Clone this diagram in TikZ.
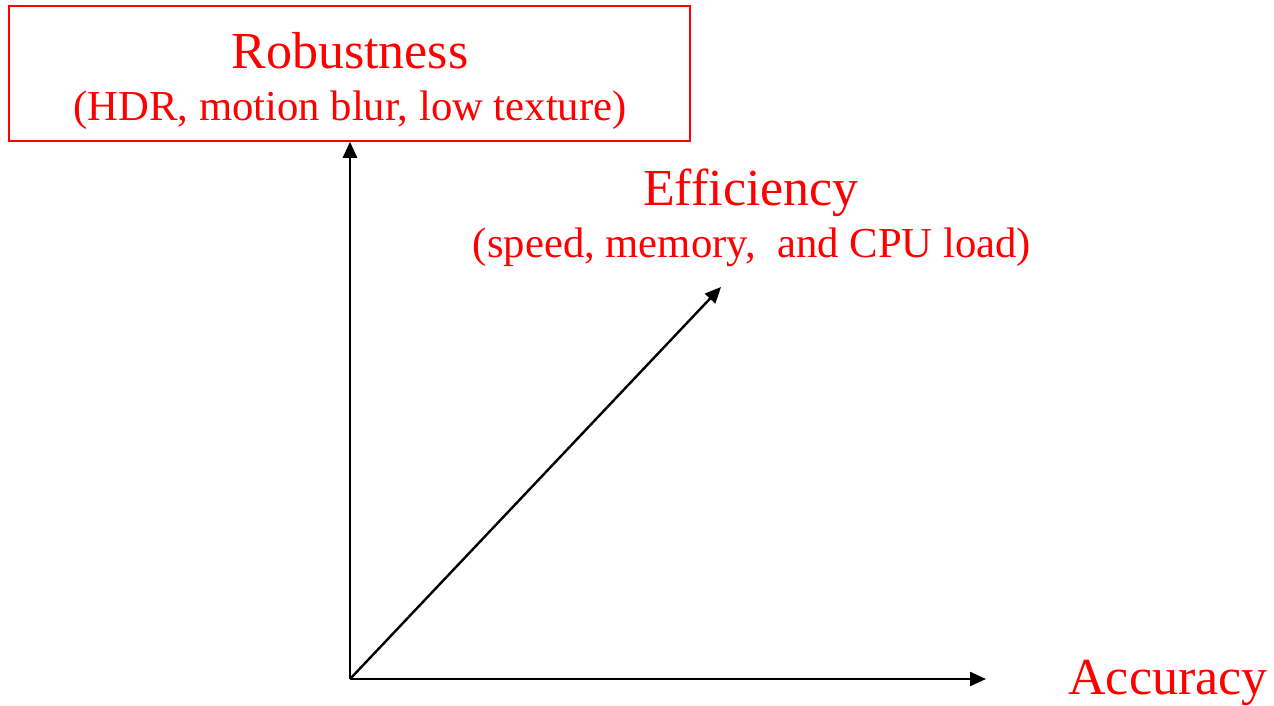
\documentclass[tikz,border=0pt]{standalone}
\usepackage{fontspec}
\setmainfont{Liberation Serif}
\usetikzlibrary{arrows.meta}
\tikzset{
  axis/.style={line width=2.4pt, -{Triangle[length=16pt,width=14pt]}},
  title/.style={text=red, anchor=base, inner sep=0pt, font=\fontsize{52}{60}\selectfont},
  subtitle/.style={text=red, anchor=base, inner sep=0pt, font=\fontsize{42.7}{50}\selectfont},
}
\begin{document}
\begin{tikzpicture}[x=1pt,y=-1pt]
\useasboundingbox (0,0) rectangle (1274,705);
% framed label of the vertical axis
\node[draw=red, line width=1.5pt, minimum width=681pt, minimum height=135pt, inner sep=0pt] (rbox) at (349.5,73.5) {};
\node[title] (rob) at (350,68) {Robustness};
\node[subtitle] (robsub) at (350,120) {(HDR, motion blur, low texture)};
% label of the diagonal axis
\node[title] (eff) at (751,205) {Efficiency};
\node[subtitle] (effsub) at (752,257) {(speed, memory,\ \ and CPU load)};
% label of the horizontal axis
\node[title] (acc) at (1168,694) {Accuracy};
% axes
\coordinate (o) at (350,679);
\coordinate (xend) at (986,679);
\coordinate (eend) at (721,287);
\draw[axis] (o) -- (o |- rbox.south);
\draw[axis] (o) -- (xend);
\draw[axis] (o) -- (eend);
\end{tikzpicture}
\end{document}
